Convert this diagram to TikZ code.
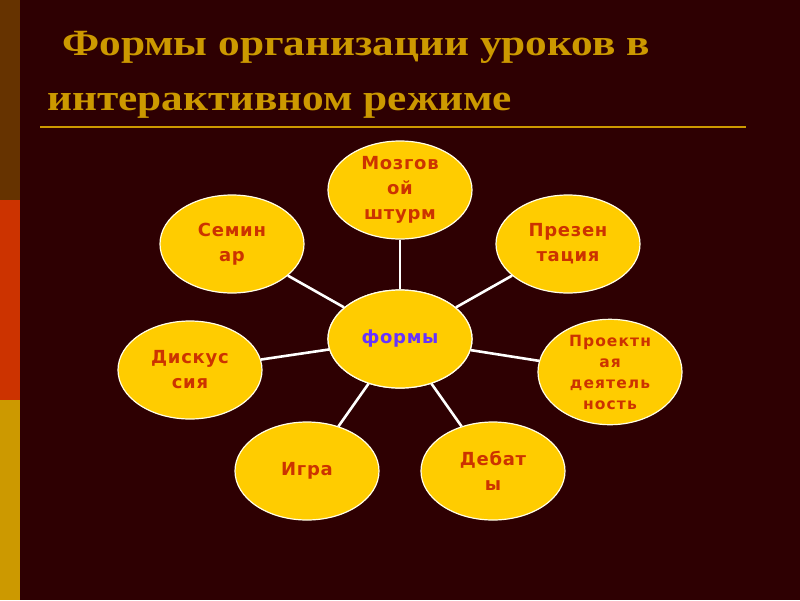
\documentclass[tikz,border=0pt]{standalone}
\usepackage{fontspec}
\setmainfont{Liberation Serif}
\newfontfamily\titlefont[FakeStretch=1.17]{Liberation Serif}
\newfontfamily\nodefont[LetterSpace=4]{DejaVu Sans}
\newfontfamily\smallnodefont[LetterSpace=7]{DejaVu Sans}
\usetikzlibrary{shapes.geometric}
\definecolor{bgdark}{HTML}{2E0002}
\definecolor{stripA}{HTML}{663300}
\definecolor{stripB}{HTML}{CC3300}
\definecolor{stripC}{HTML}{CC9900}
\definecolor{titlegold}{HTML}{CC9900}
\definecolor{ellfill}{HTML}{FFCC00}
\definecolor{elltext}{HTML}{CC3300}
\definecolor{centertext}{HTML}{6633FF}
\tikzset{
  bubble/.style={ellipse, draw=white!90!yellow, line width=1.2pt, fill=ellfill,
    minimum width=144pt, minimum height=98pt, inner sep=0pt,
    align=center, text=elltext, font=\nodefont\bfseries\fontsize{18}{25}\selectfont},
  link/.style={draw=white, line width=2.6pt},
  titletext/.style={anchor=base west, text=titlegold, font=\titlefont\bfseries\fontsize{37}{40}\selectfont, inner sep=0pt}
}
\begin{document}
\begin{tikzpicture}[x=1pt,y=-1pt]
\useasboundingbox (0,0) rectangle (800,600);
\fill[bgdark] (0,0) rectangle (800,600);
\fill[stripA] (0,0) rectangle (20,200);
\fill[stripB] (0,200) rectangle (20,400);
\fill[stripC] (0,400) rectangle (20,600);
\node[titletext] (t1) at (62,55) {Формы организации уроков в};
\node[titletext] (t2) at (47,110) {интерактивном режиме};
\coordinate (ul1) at (40,127);
\coordinate (ul2) at (746,127);
\draw[titlegold, line width=2pt] (ul1) -- (ul2);

\node[bubble] (c) at (400,339) {};
\node[bubble] (m) at (400,190) {Мозгов\\ой\\штурм};
\node[bubble] (p) at (568,244) {Презен\\тация};
\node[bubble, font=\smallnodefont\bfseries\fontsize{15.5}{21}\selectfont] (pd) at (610,372) {Проектн\\ая\\деятель\\ность};
\node[bubble] (d) at (493,471) {Дебат\\ы};
\node[bubble] (i) at (307,471) {Игра};
\node[bubble] (dk) at (190,370) {Дискус\\сия};
\node[bubble] (s) at (232,244) {Семин\\ар};

\foreach \n in {m,p,pd,d,i,dk,s} { \path[link] (c) -- (\n); }
\node[bubble, text=centertext] (c2) at (400,339) {формы};
\end{tikzpicture}
\end{document}
